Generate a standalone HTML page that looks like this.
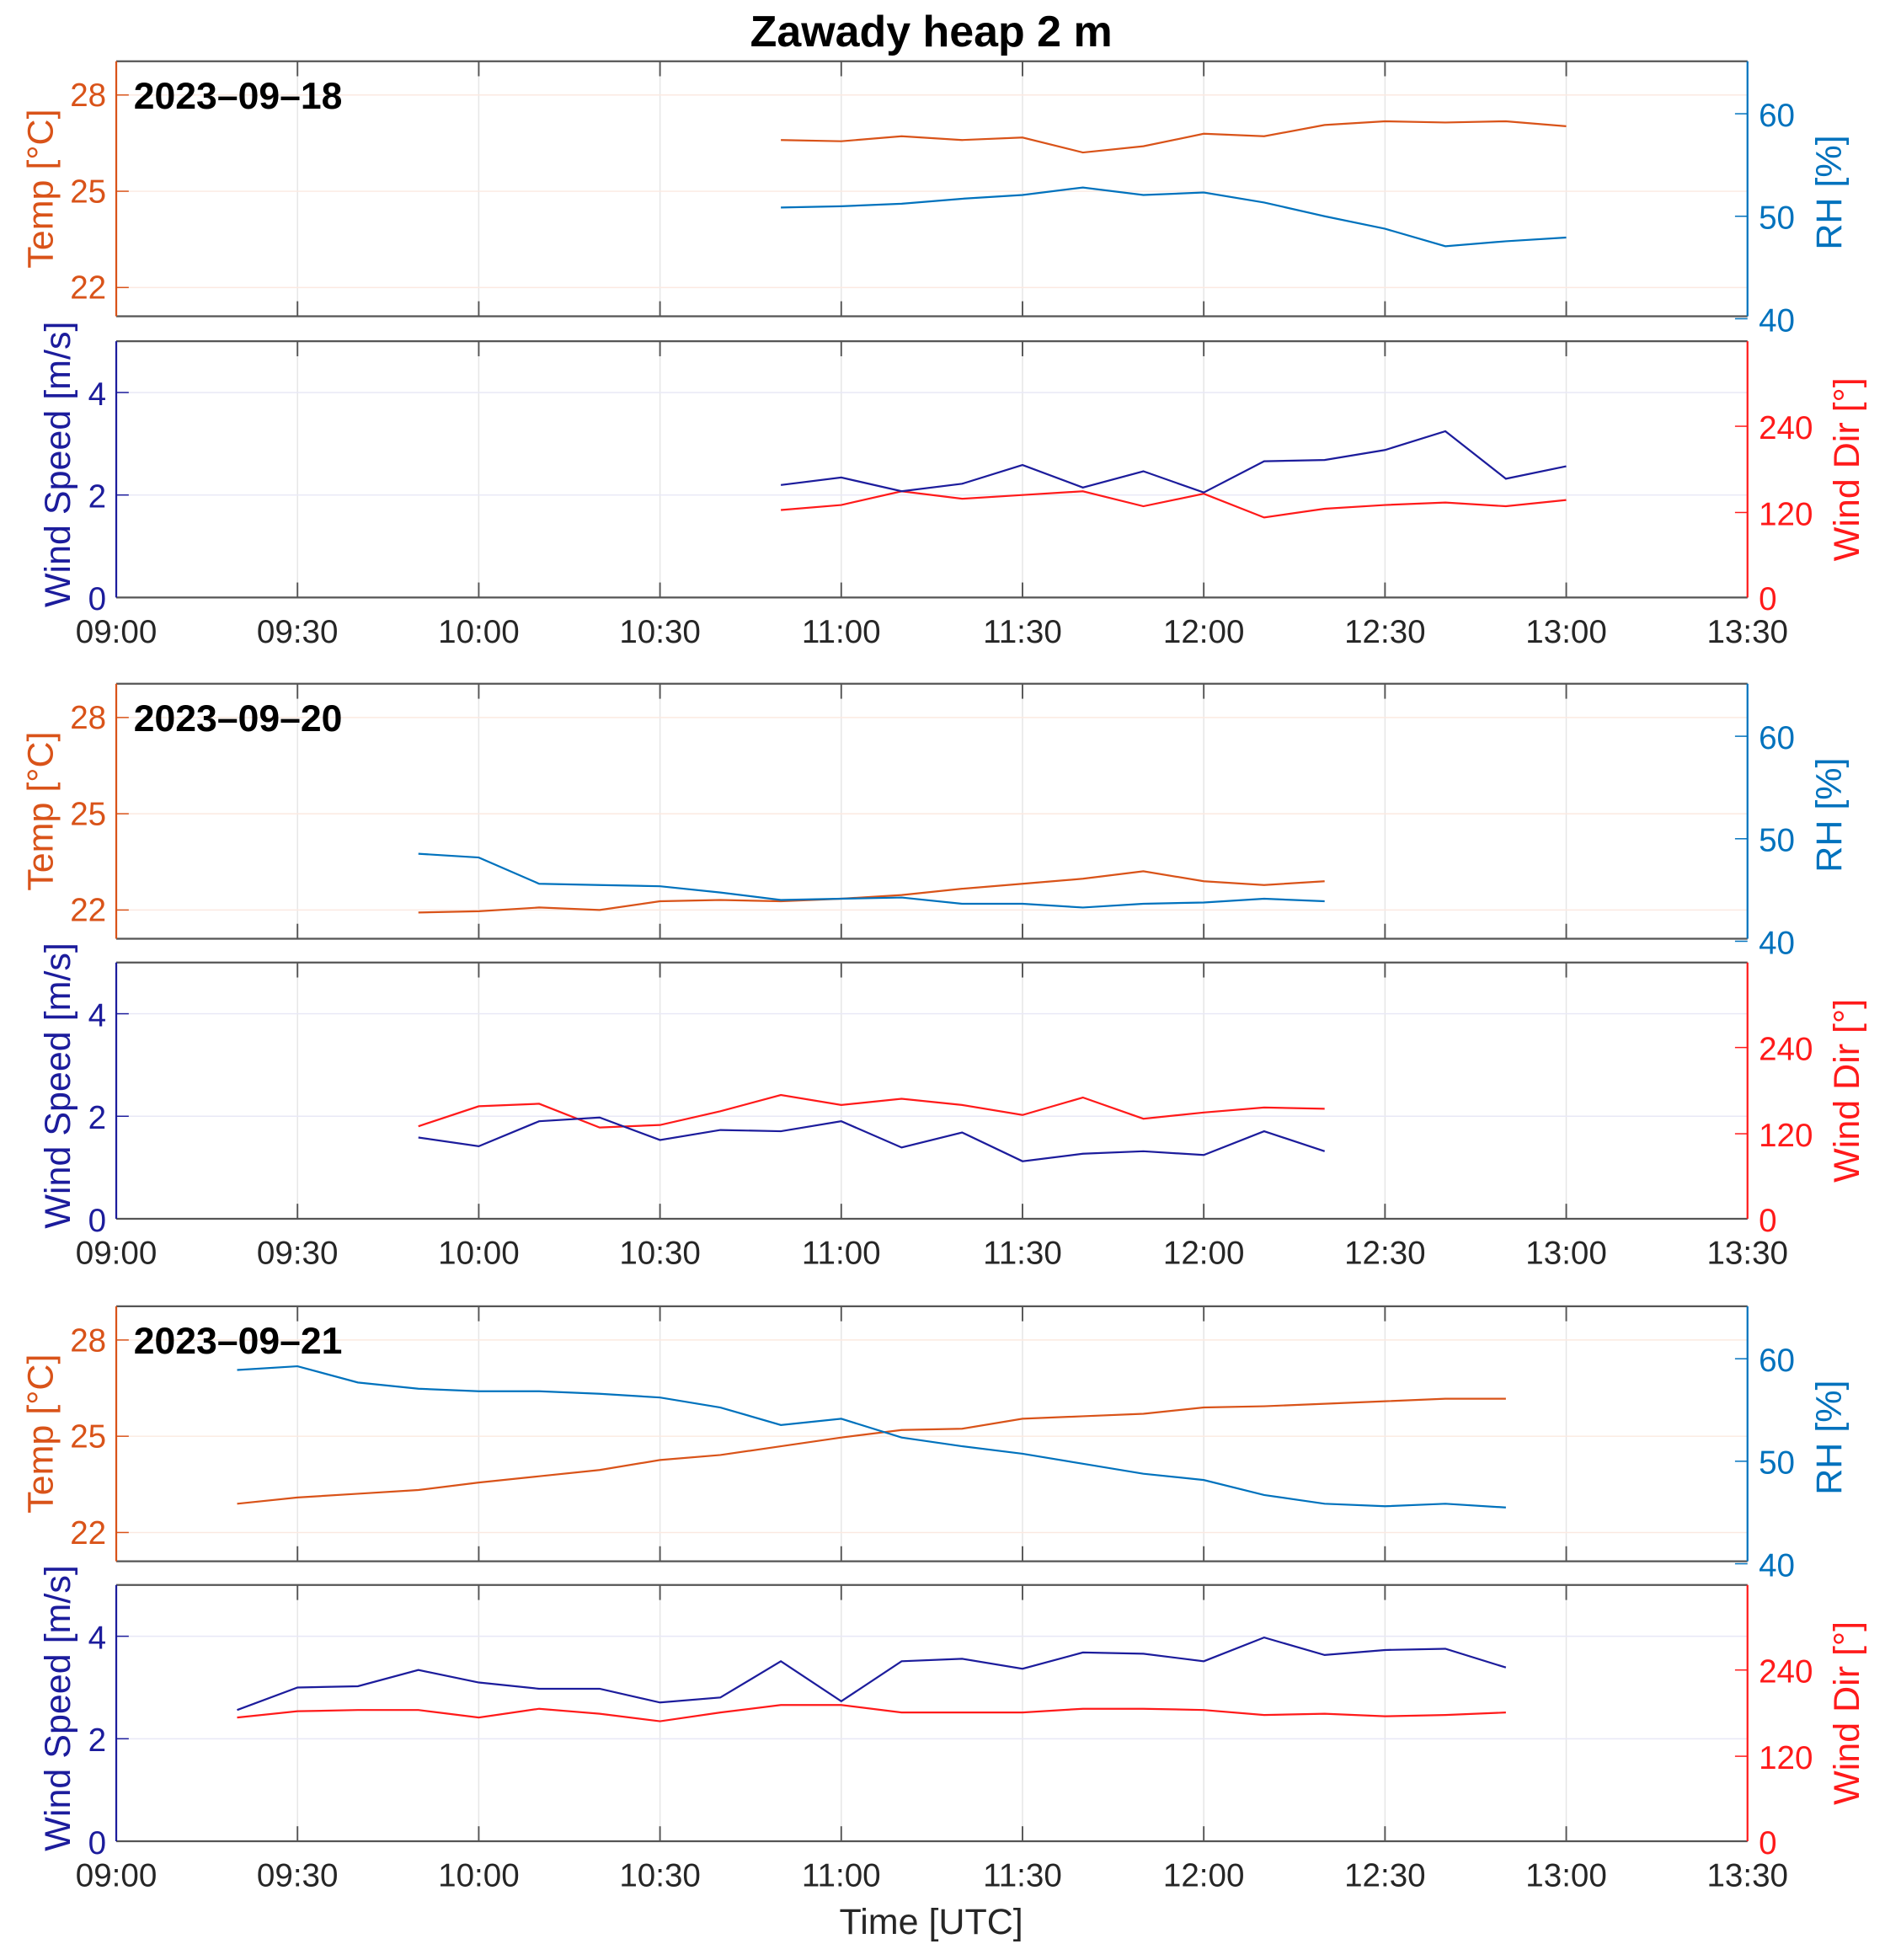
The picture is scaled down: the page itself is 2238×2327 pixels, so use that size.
<!DOCTYPE html>
<html><head><meta charset="utf-8"><style>
html,body{margin:0;padding:0;background:#fff}
svg{display:block}
text{font-family:"Liberation Sans",Arial,sans-serif}
</style></head><body>
<svg id="s" width="2238" height="2327" viewBox="0 0 1508 1568" preserveAspectRatio="none" xmlns="http://www.w3.org/2000/svg">
<rect width="1508" height="1568" fill="#fff"/>
<text x="745" y="37" font-size="35" font-weight="bold" text-anchor="middle" fill="#000">Zawady heap 2 m</text>
<text x="745" y="1547" font-size="29" text-anchor="middle" fill="#262626">Time [UTC]</text>
</svg>
<script>
const S=document.getElementById('s'),NS='http://www.w3.org/2000/svg';
function el(t,a,txt){const e=document.createElementNS(NS,t);for(const k in a)e.setAttribute(k,a[k]);if(txt!==undefined)e.textContent=txt;S.appendChild(e);return e;}
const L=93,R=1398;const X=t=>L+t*145/30;
const TC='#D95319',RC='#0072BD',WS='#1c1c9c',WD='#ff1a1a';
function tline(t0,ys,col){const pts=ys.map((y,i)=>X(t0+10*i).toFixed(1)+','+y).join(' ');el('polyline',{points:pts,fill:'none',stroke:col,'stroke-width':1.5});}
function vgrid(top,bot){for(let i=1;i<9;i++){const x=L+145*i;el('line',{x1:x,y1:top,x2:x,y2:bot,stroke:'#e6e6e6','stroke-width':1});el('line',{x1:x,y1:top,x2:x,y2:top+12,stroke:'#555','stroke-width':1.3});el('line',{x1:x,y1:bot,x2:x,y2:bot-12,stroke:'#555','stroke-width':1.3});}}
function tempPanel(o,date){const top=49+o,bot=253+o;
 vgrid(top,bot);
 [[76,'28'],[153,'25'],[230,'22']].forEach(([y,l])=>{el('line',{x1:L,y1:y+o,x2:R,y2:y+o,stroke:'#fbe9e1','stroke-width':1});el('line',{x1:L,y1:y+o,x2:L+10,y2:y+o,stroke:TC,'stroke-width':1});el('text',{x:L-8,y:y+o+9,'font-size':26,'text-anchor':'end',fill:TC},l);});
 [[91,'60'],[173,'50'],[255,'40']].forEach(([y,l])=>{el('line',{x1:R-10,y1:y+o,x2:R,y2:y+o,stroke:RC,'stroke-width':1});el('text',{x:R+9,y:y+o+10,'font-size':26,fill:RC},l);});
 el('line',{x1:L,y1:top,x2:R,y2:top,stroke:'#555','stroke-width':1.5});el('line',{x1:L,y1:bot,x2:R,y2:bot,stroke:'#555','stroke-width':1.5});
 el('line',{x1:L,y1:top,x2:L,y2:bot,stroke:TC,'stroke-width':1.5});el('line',{x1:R,y1:top,x2:R,y2:bot,stroke:RC,'stroke-width':1.5});
 el('text',{x:42,y:(top+bot)/2,'font-size':29,fill:TC,'text-anchor':'middle',transform:`rotate(-90 42 ${(top+bot)/2})`},'Temp [°C]');
 el('text',{x:1473,y:(top+bot)/2+3,'font-size':29,fill:RC,'text-anchor':'middle',transform:`rotate(-90 1473 ${(top+bot)/2+3})`},'RH [%]');
 el('text',{x:107,y:top+38,'font-size':30,'font-weight':'bold',fill:'#000'},date);}
function windPanel(o){const top=273+o,bot=478+o;
 vgrid(top,bot);
 [[314,'4'],[396,'2'],[478,'0']].forEach(([y,l])=>{if(y<478)el('line',{x1:L,y1:y+o,x2:R,y2:y+o,stroke:'#e8e8f6','stroke-width':1});el('line',{x1:L,y1:y+o,x2:L+10,y2:y+o,stroke:WS,'stroke-width':1});el('text',{x:L-8,y:y+o+10,'font-size':26,'text-anchor':'end',fill:WS},l);});
 [[341,'240'],[410,'120'],[478,'0']].forEach(([y,l])=>{el('line',{x1:R-10,y1:y+o,x2:R,y2:y+o,stroke:WD,'stroke-width':1});el('text',{x:R+9,y:y+o+10,'font-size':26,fill:WD},l);});
 el('line',{x1:L,y1:top,x2:R,y2:top,stroke:'#555','stroke-width':1.5});el('line',{x1:L,y1:bot,x2:R,y2:bot,stroke:'#555','stroke-width':1.5});
 el('line',{x1:L,y1:top,x2:L,y2:bot,stroke:WS,'stroke-width':1.5});el('line',{x1:R,y1:top,x2:R,y2:bot,stroke:WD,'stroke-width':1.5});
 el('text',{x:56,y:(top+bot)/2-4,'font-size':29,fill:WS,'text-anchor':'middle',transform:`rotate(-90 56 ${(top+bot)/2-4})`},'Wind Speed [m/s]');
 el('text',{x:1487,y:(top+bot)/2,'font-size':29,fill:WD,'text-anchor':'middle',transform:`rotate(-90 1487 ${(top+bot)/2})`},'Wind Dir [°]');
 ['09:00','09:30','10:00','10:30','11:00','11:30','12:00','12:30','13:00','13:30'].forEach((l,i)=>el('text',{x:L+145*i,y:bot+36,'font-size':26,'text-anchor':'middle',fill:'#262626'},l));}
tempPanel(0,'2023\u201309\u201318');windPanel(0);
tempPanel(498,'2023\u201309\u201320');windPanel(497);
tempPanel(996,'2023\u201309\u201321');windPanel(995);
tline(110,[112,113,109,112,110,122,117,107,109,100,97,98,97,101],TC);
tline(110,[166,165,163,159,156,150,156,154,162,173,183,197,193,190],RC);
tline(110,[408,404,393,399,396,393,405,395,414,407,404,402,405,400],WD);
tline(110,[388,382,393,387,372,390,377,394,369,368,360,345,383,373],WS);
tline(50,[730,729,726,728,721,720,721,719,716,711,707,703,697,705,708,705],TC);
tline(50,[683,686,707,708,709,714,720,719,718,723,723,726,723,722,719,721],RC);
tline(50,[901,885,883,902,900,889,876,884,879,884,892,878,895,890,886,887],WD);
tline(50,[910,917,897,894,912,904,905,897,918,906,929,923,921,924,905,921],WS);
tline(20,[1203,1198,1195,1192,1186,1181,1176,1168,1164,1157,1150,1144,1143,1135,1133,1131,1126,1125,1123,1121,1119,1119],TC);
tline(20,[1096,1093,1106,1111,1113,1113,1115,1118,1126,1140,1135,1150,1157,1163,1171,1179,1184,1196,1203,1205,1203,1206],RC);
tline(20,[1374,1369,1368,1368,1374,1367,1371,1377,1370,1364,1364,1370,1370,1370,1367,1367,1368,1372,1371,1373,1372,1370],WD);
tline(20,[1368,1350,1349,1336,1346,1351,1351,1362,1358,1329,1361,1329,1327,1335,1322,1323,1329,1310,1324,1320,1319,1334],WS);
</script>
</body></html>
